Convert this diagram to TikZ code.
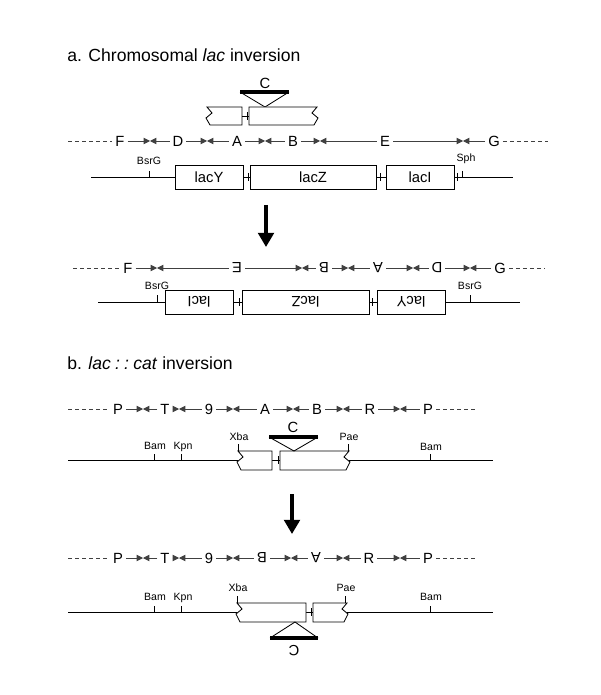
\documentclass[tikz,border=0pt]{standalone}
\usepackage{fontspec}
\setmainfont{Liberation Sans}
\usetikzlibrary{arrows.meta}
\tikzstyle{none}=[inner sep=0pt]
\tikzstyle{heading}=[inner sep=0pt,anchor=west,font=\fontsize{12.5}{14}\selectfont]
\tikzstyle{seg}=[inner sep=2pt,font=\fontsize{10.5}{12}\selectfont]
\tikzstyle{enzyme}=[inner sep=0pt,font=\fontsize{7.5}{9}\selectfont]
\tikzstyle{gene}=[draw=black,line width=0.6,fill=white,inner sep=0pt,minimum height=0.6cm,font=\fontsize{10.5}{12}\selectfont]
\tikzstyle{simple}=[-,draw=black,line width=0.6]
\tikzstyle{box}=[draw=black,line width=0.6,fill=white]
\tikzstyle{site}=[-{Triangle[length=4.5pt,width=4.5pt]},draw=black!75,line width=0.5]
\tikzstyle{flank}=[densely dashed,draw=black!75,line width=0.5]
\tikzstyle{bar}=[-,draw=black,line width=2.2]
\tikzstyle{arrow}=[-{Triangle[length=10pt,width=11pt]},draw=black,line width=2.6]

\begin{document}
\begin{tikzpicture}[x=0.025cm,y=-0.025cm]
  \useasboundingbox (0,0) rectangle (600,695);
  \node [style=heading] (0) at (67, 55) {a. Chromosomal \textit{lac} inversion};
  \node [style=seg] (1) at (265, 83) {C};
  \coordinate (2) at (240, 92);
  \coordinate (3) at (289, 92);
  \coordinate (4) at (265, 107);
  \draw [style=simple] (2) -- (4) -- (3);
  \draw [style=bar] (2) -- (3);
  \draw [style=box] (242, 107) -- (207, 107) -- (212, 113) -- (206, 118) -- (210, 125) -- (242, 125) -- cycle;
  \draw [style=box] (249, 107) -- (317, 107) -- (312, 113) -- (318, 118) -- (314, 125) -- (249, 125) -- cycle;
  \draw [style=simple] (242, 116) -- (249, 116);
  \draw [style=simple] (247.5, 112) -- (247.5, 120);

  \node [style=seg] (10) at (120, 141) {F};
  \node [style=seg] (11) at (178, 141) {D};
  \node [style=seg] (12) at (237, 141) {A};
  \node [style=seg] (13) at (293, 141) {B};
  \node [style=seg] (14) at (385, 141) {E};
  \node [style=seg] (15) at (494, 141) {G};
  \coordinate (16) at (68, 141);
  \coordinate (17) at (548, 141);
  \coordinate (20) at (150, 141);
  \coordinate (21) at (207, 141);
  \coordinate (22) at (265, 141);
  \coordinate (23) at (320, 141);
  \coordinate (24) at (463, 141);
  \draw [style=flank] (16) -- (10);
  \draw [style=flank] (15) -- (17);
  \draw [style=site] (10) -- (20);
  \draw [style=site] (11) -- (20);
  \draw [style=site] (11) -- (21);
  \draw [style=site] (12) -- (21);
  \draw [style=site] (12) -- (22);
  \draw [style=site] (13) -- (22);
  \draw [style=site] (13) -- (23);
  \draw [style=site] (14) -- (23);
  \draw [style=site] (14) -- (24);
  \draw [style=site] (15) -- (24);

  \coordinate (30) at (91, 177);
  \coordinate (31) at (513, 177);
  \node [style=gene, minimum width=1.7cm] (32) at (209, 177) {lacY};
  \node [style=gene, minimum width=3.15cm] (33) at (313, 177) {lacZ};
  \node [style=gene, minimum width=1.7cm] (34) at (420, 177) {lacI};
  \draw [style=simple] (30) -- (32);
  \draw [style=simple] (32) -- (33);
  \draw [style=simple] (33) -- (34);
  \draw [style=simple] (34) -- (31);
  \draw [style=simple] (248, 173) -- (248, 181);
  \draw [style=simple] (380, 173) -- (380, 181);
  \draw [style=simple] (457, 173) -- (457, 181);
  \node [style=enzyme] (35) at (149, 161) {BsrG};
  \draw [style=simple] (149, 171) -- (149, 177);
  \node [style=enzyme] (36) at (466, 159) {Sph};
  \draw [style=simple] (462, 171) -- (462, 177);

  \coordinate (40) at (266, 205);
  \coordinate (41) at (266, 247);
  \draw [style=arrow] (40) -- (41);

  \node [style=seg] (50) at (128, 268) {F};
  \node [style=seg, rotate=180] (51) at (237, 268) {E};
  \node [style=seg, rotate=180] (52) at (324, 268) {B};
  \node [style=seg, rotate=180] (53) at (378, 268) {A};
  \node [style=seg, rotate=180] (54) at (437, 268) {D};
  \node [style=seg] (55) at (500, 268) {G};
  \coordinate (56) at (73, 268);
  \coordinate (57) at (545, 268);
  \coordinate (60) at (157, 268);
  \coordinate (61) at (302, 268);
  \coordinate (62) at (348, 268);
  \coordinate (63) at (413, 268);
  \coordinate (64) at (470, 268);
  \draw [style=flank] (56) -- (50);
  \draw [style=flank] (55) -- (57);
  \draw [style=site] (50) -- (60);
  \draw [style=site] (51) -- (60);
  \draw [style=site] (51) -- (61);
  \draw [style=site] (52) -- (61);
  \draw [style=site] (52) -- (62);
  \draw [style=site] (53) -- (62);
  \draw [style=site] (53) -- (63);
  \draw [style=site] (54) -- (63);
  \draw [style=site] (54) -- (64);
  \draw [style=site] (55) -- (64);

  \coordinate (70) at (98, 302);
  \coordinate (71) at (520, 302);
  \node [style=gene, rotate=180, minimum width=1.7cm] (72) at (199, 302) {lacI};
  \node [style=gene, rotate=180, minimum width=3.175cm] (73) at (305.5, 302) {lacZ};
  \node [style=gene, rotate=180, minimum width=1.7cm] (74) at (411, 302) {lacY};
  \draw [style=simple] (70) -- (72);
  \draw [style=simple] (72) -- (73);
  \draw [style=simple] (73) -- (74);
  \draw [style=simple] (74) -- (71);
  \draw [style=simple] (239, 298) -- (239, 306);
  \draw [style=simple] (372, 298) -- (372, 306);
  \node [style=enzyme] (75) at (157, 286) {BsrG};
  \draw [style=simple] (157, 295) -- (157, 302);
  \node [style=enzyme] (76) at (470, 286) {BsrG};
  \draw [style=simple] (470, 295) -- (470, 302);

  \node [style=heading] (100) at (67, 363) {b. \textit{lac\kern3pt:\kern3pt:\kern3pt cat} inversion};
  \node [style=seg] (110) at (118, 409) {P};
  \node [style=seg] (111) at (165, 409) {T};
  \node [style=seg] (112) at (209, 409) {9};
  \node [style=seg] (113) at (265, 409) {A};
  \node [style=seg] (114) at (317, 409) {B};
  \node [style=seg] (115) at (370, 409) {R};
  \node [style=seg] (116) at (428, 409) {P};
  \coordinate (117) at (68, 409);
  \coordinate (118) at (478, 409);
  \coordinate (120) at (143, 409);
  \coordinate (121) at (179, 409);
  \coordinate (122) at (233, 409);
  \coordinate (123) at (293, 409);
  \coordinate (124) at (343, 409);
  \coordinate (125) at (400, 409);
  \draw [style=flank] (117) -- (110);
  \draw [style=flank] (116) -- (118);
  \draw [style=site] (110) -- (120);
  \draw [style=site] (111) -- (120);
  \draw [style=site] (111) -- (121);
  \draw [style=site] (112) -- (121);
  \draw [style=site] (112) -- (122);
  \draw [style=site] (113) -- (122);
  \draw [style=site] (113) -- (123);
  \draw [style=site] (114) -- (123);
  \draw [style=site] (114) -- (124);
  \draw [style=site] (115) -- (124);
  \draw [style=site] (115) -- (125);
  \draw [style=site] (116) -- (125);

  \coordinate (130) at (68, 460);
  \coordinate (131) at (238, 460);
  \coordinate (132) at (349, 460);
  \coordinate (133) at (493, 460);
  \draw [style=simple] (130) -- (131);
  \draw [style=simple] (132) -- (133);
  \draw [style=simple] (272, 460) -- (280, 460);
  \draw [style=simple] (278, 456) -- (278, 464);
  \draw [style=box] (272, 451) -- (238, 451) -- (243, 457) -- (237, 462) -- (241, 470) -- (272, 470) -- cycle;
  \draw [style=box] (280, 451) -- (349, 451) -- (344, 457) -- (350, 462) -- (346, 470) -- (280, 470) -- cycle;
  \node [style=seg] (134) at (293, 427) {C};
  \coordinate (135) at (269, 437);
  \coordinate (136) at (318, 437);
  \coordinate (137) at (294, 451);
  \draw [style=simple] (135) -- (137) -- (136);
  \draw [style=bar] (135) -- (136);
  \node [style=enzyme] (140) at (155, 446) {Bam};
  \node [style=enzyme] (141) at (183, 447) {Kpn};
  \node [style=enzyme] (142) at (239, 437) {Xba};
  \node [style=enzyme] (143) at (349, 437) {Pae};
  \node [style=enzyme] (144) at (431, 447) {Bam};
  \draw [style=simple] (154, 454) -- (154, 460);
  \draw [style=simple] (181, 454) -- (181, 460);
  \draw [style=simple] (238, 444) -- (238, 451);
  \draw [style=simple] (348, 444) -- (348, 451);
  \draw [style=simple] (430, 454) -- (430, 460);

  \coordinate (150) at (292, 494);
  \coordinate (151) at (292, 534);
  \draw [style=arrow] (150) -- (151);

  \node [style=seg] (160) at (118, 558) {P};
  \node [style=seg] (161) at (165, 558) {T};
  \node [style=seg] (162) at (209, 558) {9};
  \node [style=seg, rotate=180] (163) at (262, 558) {B};
  \node [style=seg, rotate=180] (164) at (316, 558) {A};
  \node [style=seg] (165) at (369, 558) {R};
  \node [style=seg] (166) at (428, 558) {P};
  \coordinate (167) at (68, 558);
  \coordinate (168) at (478, 558);
  \coordinate (170) at (143, 558);
  \coordinate (171) at (179, 558);
  \coordinate (172) at (233, 558);
  \coordinate (173) at (291, 558);
  \coordinate (174) at (343, 558);
  \coordinate (175) at (400, 558);
  \draw [style=flank] (167) -- (160);
  \draw [style=flank] (166) -- (168);
  \draw [style=site] (160) -- (170);
  \draw [style=site] (161) -- (170);
  \draw [style=site] (161) -- (171);
  \draw [style=site] (162) -- (171);
  \draw [style=site] (162) -- (172);
  \draw [style=site] (163) -- (172);
  \draw [style=site] (163) -- (173);
  \draw [style=site] (164) -- (173);
  \draw [style=site] (164) -- (174);
  \draw [style=site] (165) -- (174);
  \draw [style=site] (165) -- (175);
  \draw [style=site] (166) -- (175);

  \coordinate (180) at (68, 612);
  \coordinate (181) at (237, 612);
  \coordinate (182) at (347, 612);
  \coordinate (183) at (493, 612);
  \draw [style=simple] (180) -- (181);
  \draw [style=simple] (182) -- (183);
  \draw [style=simple] (306, 612) -- (313, 612);
  \draw [style=simple] (311, 608) -- (311, 616);
  \draw [style=box] (306, 603) -- (237, 603) -- (242, 609) -- (236, 614) -- (240, 622) -- (306, 622) -- cycle;
  \draw [style=box] (313, 603) -- (347, 603) -- (342, 609) -- (348, 614) -- (344, 622) -- (313, 622) -- cycle;
  \node [style=seg, rotate=180] (184) at (294, 651) {C};
  \coordinate (185) at (270, 638);
  \coordinate (186) at (318, 638);
  \coordinate (187) at (295, 622);
  \draw [style=simple] (185) -- (187) -- (186);
  \draw [style=bar] (185) -- (186);
  \node [style=enzyme] (190) at (155, 597) {Bam};
  \node [style=enzyme] (191) at (183, 598) {Kpn};
  \node [style=enzyme] (192) at (238, 588) {Xba};
  \node [style=enzyme] (193) at (346, 588) {Pae};
  \node [style=enzyme] (194) at (431, 597) {Bam};
  \draw [style=simple] (154, 606) -- (154, 612);
  \draw [style=simple] (181, 606) -- (181, 612);
  \draw [style=simple] (237, 596) -- (237, 603);
  \draw [style=simple] (345, 596) -- (345, 603);
  \draw [style=simple] (430, 606) -- (430, 612);
\end{tikzpicture}
\end{document}
